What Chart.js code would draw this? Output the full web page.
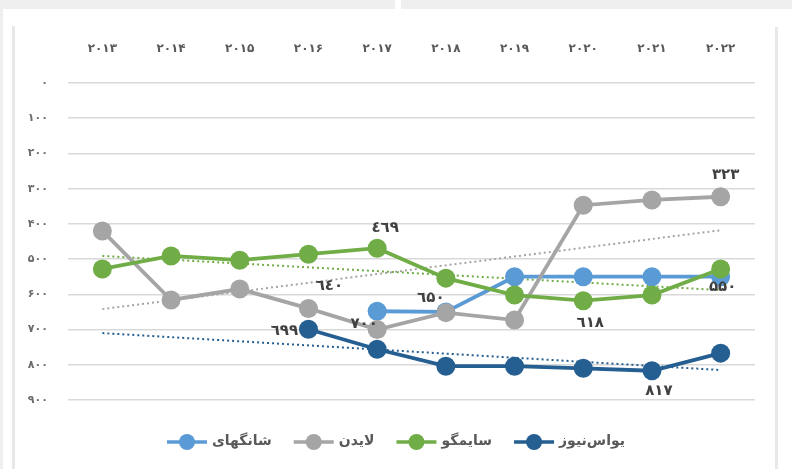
<!DOCTYPE html>
<html>
<head>
<meta charset="utf-8">
<script src="https://cdn.jsdelivr.net/npm/chart.js@4.4.1/dist/chart.umd.min.js"></script>
<style>
  html, body { margin: 0; padding: 0; background: #ffffff; }
  #wrap { position: relative; width: 792px; height: 469px; overflow: hidden; background: #ffffff; }
  .deco { position: absolute; background: #efefef; }
  canvas { position: absolute; left: 0; top: 0; }
</style>
</head>
<body>
<div id="wrap">
  <div class="deco" style="left:0;top:0;width:395px;height:9px;"></div>
  <div class="deco" style="left:401px;top:0;width:391px;height:9px;"></div>
  <div class="deco" style="left:0;top:0;width:3px;height:469px;"></div>
  <div class="deco" style="left:12px;top:26px;width:3px;height:443px;background:#e8e8e8;"></div>
  <div class="deco" style="left:775px;top:27px;width:3px;height:442px;background:#e8e8e8;"></div>
  <canvas id="c" width="792" height="469"></canvas>
</div>
<script>
// ---- data ----
const years = ['۲۰۱۳','۲۰۱۴','۲۰۱۵','۲۰۱۶','۲۰۱۷','۲۰۱۸','۲۰۱۹','۲۰۲۰','۲۰۲۱','۲۰۲۲'];
const yTickValues = [0,100,200,300,400,500,600,700,800,900];

const seriesNames = ['یواس‌نیوز','سایمگو','لایدن','شانگهای'];
const usNews   = [null, null, null, 699, 756, 804, 804, 810, 817, 767];
const scimago  = [528, 491, 503, 486, 469, 554, 602, 618, 602, 528];
const leiden   = [420, 616, 585, 640, 700, 652, 673, 347, 332, 323];
const shanghai = [null, null, null, null, 648, 650, 550, 550, 550, 550];

// trend lines (start / end values)
const usNewsTrend  = [710, 815];
const scimagoTrend = [491, 588];
const leidenTrend  = [642, 418];

// labelled points: [series index, year index]
const labelled = [[2,9],[1,4],[2,3],[2,4],[3,5],[0,3],[1,7],[3,9],[0,8]];

// ---- styles ----
const colors = ['#255E91','#70AD47','#A5A5A5','#5B9BD5'];
const labelOffsets = [[5,-22],[8,-20],[21,-22],[-13,-5],[-15,-14],[-24,2],[7,22],[2,10],[7,20]];
const legendOrder = [3, 2, 1, 0];
const FONT = "'DejaVu Sans', sans-serif";

const pd = '۰۱۲۳۴۵۶۷۸۹';
const ad = '٠١٢٣٤٥٦٧٨٩';
const toFa = n => String(n).replace(/[0-9]/g, d => pd[d]);
const toAr = n => String(n).replace(/[0-9]/g, d => (d === '5' ? pd[5] : ad[d]));

const mainSeries = [usNews, scimago, leiden, shanghai];
const datasets = mainSeries.map((d, i) => ({
  label: seriesNames[i],
  data: d,
  borderColor: colors[i],
  backgroundColor: colors[i],
  borderWidth: 3.8,
  pointRadius: 9.5,
  pointHoverRadius: 9.5,
  pointBorderWidth: 0,
  tension: 0,
  spanGaps: false
}));
const trends = [[usNewsTrend, 0], [scimagoTrend, 1], [leidenTrend, 2]];
trends.forEach(([t, i]) => {
  datasets.push({
    label: 'trend',
    data: [{x: years[0], y: t[0]}, {x: years[years.length - 1], y: t[1]}],
    borderColor: colors[i],
    borderWidth: 2,
    borderDash: [2, 3],
    pointRadius: 0,
    fill: false
  });
});

const labelPlugin = {
  id: 'pointLabels',
  afterDatasetsDraw(chart) {
    const ctx = chart.ctx;
    ctx.save();
    ctx.font = "bold 15px " + FONT;
    ctx.fillStyle = '#404040';
    ctx.textAlign = 'center';
    ctx.textBaseline = 'middle';
    labelled.forEach(([s, i], k) => {
      const el = chart.getDatasetMeta(s).data[i];
      const v = chart.data.datasets[s].data[i];
      const off = labelOffsets[k];
      ctx.fillText(toAr(v), el.x + off[0], el.y + off[1]);
    });
    ctx.restore();
  }
};

const legendPlugin = {
  id: 'customLegend',
  afterDraw(chart) {
    const ctx = chart.ctx;
    ctx.save();
    ctx.font = "bold 14px " + FONT;
    const markerW = 40, gapText = 5, gapItem = 22;
    const widths = legendOrder.map(i => markerW + gapText + ctx.measureText(chart.data.datasets[i].label).width);
    const total = widths.reduce((a, b) => a + b, 0) + gapItem * (widths.length - 1);
    let x = (chart.width - total) / 2;
    const y = 442;
    legendOrder.forEach((i, k) => {
      const c = colors[i];
      ctx.strokeStyle = c; ctx.lineWidth = 3.5;
      ctx.beginPath(); ctx.moveTo(x, y); ctx.lineTo(x + markerW, y); ctx.stroke();
      ctx.fillStyle = c;
      ctx.beginPath(); ctx.arc(x + markerW / 2, y, 8, 0, Math.PI * 2); ctx.fill();
      ctx.fillStyle = '#595959';
      ctx.textAlign = 'left';
      ctx.textBaseline = 'middle';
      ctx.fillText(chart.data.datasets[i].label, x + markerW + gapText, y - 1);
      x += widths[k] + gapItem;
    });
    ctx.restore();
  }
};

new Chart(document.getElementById('c'), {
  type: 'line',
  data: { labels: years, datasets },
  options: {
    responsive: false,
    animation: false,
    layout: { padding: { left: 20, right: 37, top: 28, bottom: 69 } },
    plugins: {
      tooltip: { enabled: false },
      legend: { display: false }
    },
    scales: {
      x: {
        position: 'top',
        offset: true,
        grid: { display: false, drawTicks: false },
        border: { display: false },
        ticks: { color: '#595959', font: { family: FONT, size: 12, weight: 'bold' }, padding: 27 },
        afterFit(s) { s.height = 55; }
      },
      y: {
        reverse: true,
        min: 0, max: 900,
        afterBuildTicks(s) { s.ticks = yTickValues.map(v => ({ value: v })); },
        grid: { color: '#d9d9d9', lineWidth: 1.5, drawTicks: false },
        border: { display: false },
        ticks: { color: '#6b6b6b', font: { family: FONT, size: 11, weight: 'bold' }, padding: 20, callback: v => toFa(v) },
        afterFit(s) { s.width = 48; }
      }
    }
  },
  plugins: [labelPlugin, legendPlugin]
});
</script>
</body>
</html>
